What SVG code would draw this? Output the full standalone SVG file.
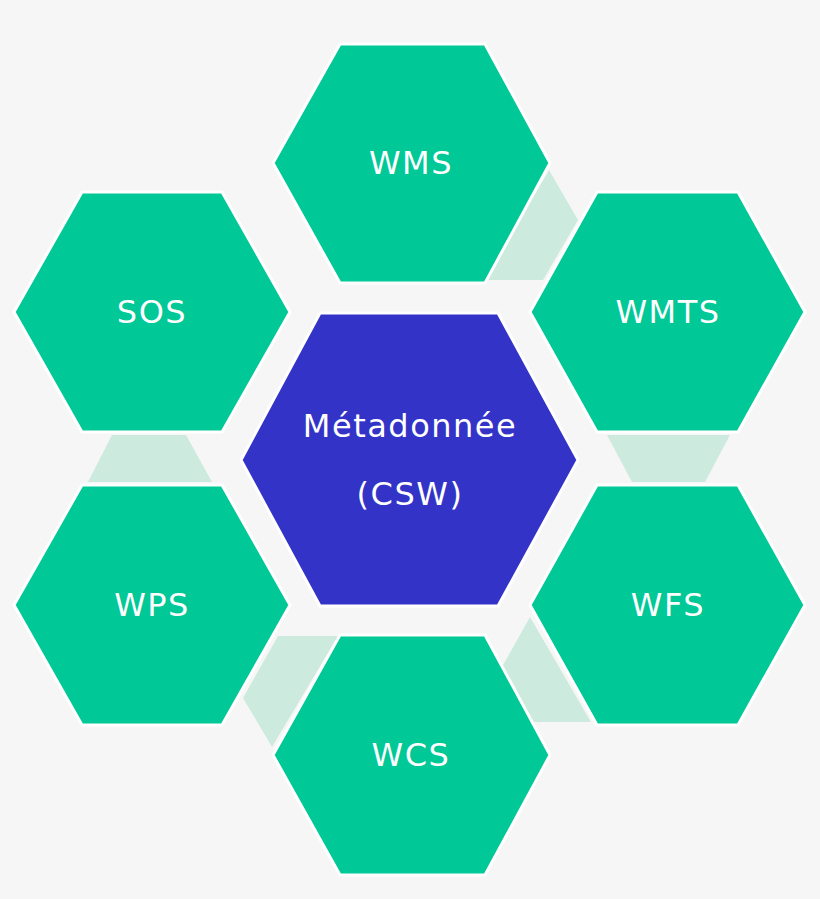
<svg xmlns="http://www.w3.org/2000/svg" width="820" height="899" viewBox="0 0 820 899">
<style>
.h{fill:#00c896;stroke:#fff;stroke-width:3}
.c{fill:#cdeadf}
text{font-family:"DejaVu Sans",sans-serif;font-size:32px;letter-spacing:1.5px;fill:#fff;text-anchor:middle;dominant-baseline:central}
</style>
<rect width="820" height="899" fill="#f6f6f6"/>
<g id="connectors">
<polygon class="c" points="549,170 578,220 543,280 485,280"/>
<polygon class="c" points="607,435 730,435 705,482 632,482"/>
<polygon class="c" points="530,617 591,722 533,722 502,667"/>
<polygon class="c" points="278,636 338,636 272,747 243,698"/>
<polygon class="c" points="112,435 186,435 212,482 88,482"/>
</g>
<g id="wms"><polygon class="h" points="273,163 340,44 485,44 550,163 485,283 340,283"/><text x="411" y="163">WMS</text></g>
<g id="sos"><polygon class="h" points="14,312 82,192 222,192 290,312 222,432 82,432"/><text x="152" y="312">SOS</text></g>
<g id="wmts"><polygon class="h" points="530,312 597,192 738,192 805,312 738,432 597,432"/><text x="668" y="312">WMTS</text></g>
<g id="wps"><polygon class="h" points="14,605 82,485 222,485 290,605 222,725 82,725"/><text x="152" y="605">WPS</text></g>
<g id="wfs"><polygon class="h" points="530,605 597,485 738,485 805,605 738,725 597,725"/><text x="668" y="605">WFS</text></g>
<g id="wcs"><polygon class="h" points="273,755 340,635 485,635 550,755 485,875 340,875"/><text x="411" y="755">WCS</text></g>
<g id="csw"><polygon points="241,460 320,313 498,313 578,460 498,606 320,606" fill="#3333c8" stroke="#fff" stroke-width="3"/><text x="410" y="426">Métadonnée</text><text x="410" y="494">(CSW)</text></g>
</svg>
